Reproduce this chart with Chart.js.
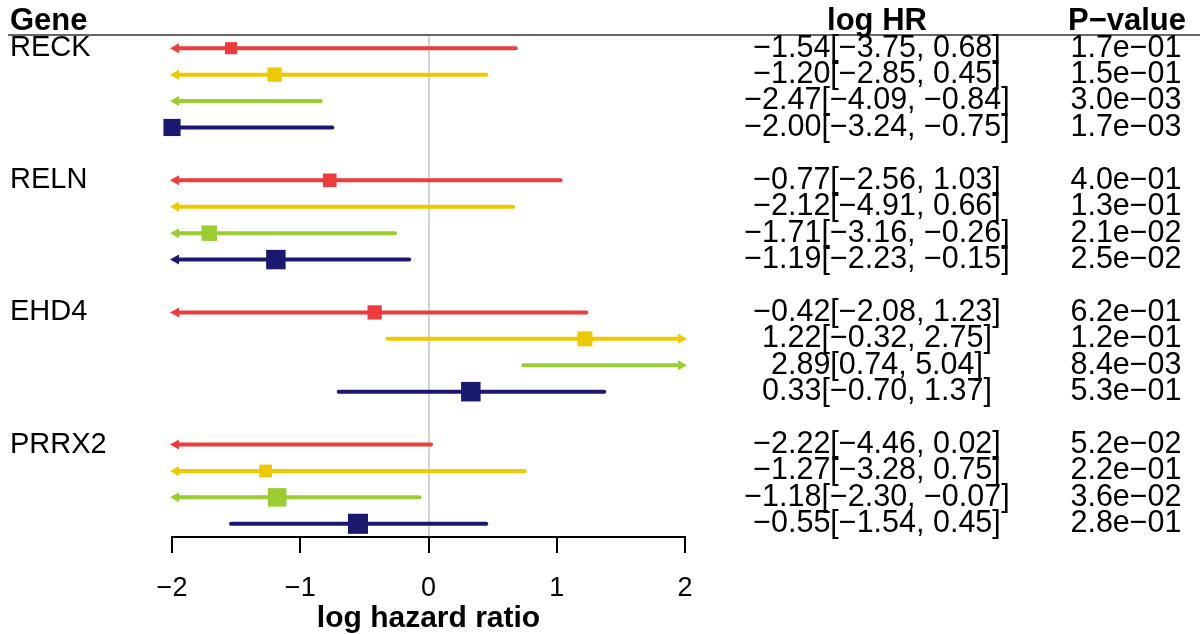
<!DOCTYPE html>
<html>
<head>
<meta charset="utf-8">
<script src="https://cdn.jsdelivr.net/npm/chart.js@4/dist/chart.umd.min.js"></script>
<style>
  body { margin: 0; background: #fff; }
  #wrap { width: 1200px; height: 634px; position: relative; }
</style>
</head>
<body>
<div id="wrap"><canvas id="chart"></canvas></div>
<script>
const genes = ['RECK', 'RELN', 'EHD4', 'PRRX2'];
const seriesColors = ['#EE3B3B', '#EEC900', '#9ACD32', '#191970'];

// log HR estimate per series (rows) and gene (columns)
const estimates = [
  [-1.54, -0.77, -0.42, -2.22],
  [-1.20, -2.12, 1.22, -1.27],
  [-2.47, -1.71, 2.89, -1.18],
  [-2.00, -1.19, 0.33, -0.55]
];
const lower = [
  [-3.75, -2.56, -2.08, -4.46],
  [-2.85, -4.91, -0.32, -3.28],
  [-4.09, -3.16, 0.74, -2.30],
  [-3.24, -2.23, -0.70, -1.54]
];
const upper = [
  [0.68, 1.03, 1.23, 0.02],
  [0.45, 0.66, 2.75, 0.75],
  [-0.84, -0.26, 5.04, -0.07],
  [-0.75, -0.15, 1.37, 0.45]
];
const pValues = [
  ['1.7e-01', '4.0e-01', '6.2e-01', '5.2e-02'],
  ['1.5e-01', '1.3e-01', '1.2e-01', '2.2e-01'],
  ['3.0e-03', '2.1e-02', '8.4e-03', '3.6e-02'],
  ['1.7e-03', '2.5e-02', '5.3e-01', '2.8e-01']
];
const xTicks = [-2, -1, 0, 1, 2];

const XMIN = -2, XMAX = 2;
const rowOf = (g, s) => g * 5 + s;
const minus = v => String(v).replace(/-/g, '\u2212');
const fmt = v => minus(v.toFixed(2));
// square side grows with precision (1 / CI width)
const boxSide = (g, s) => 5.5 + 29 / (upper[s][g] - lower[s][g]);

Chart.defaults.font.family = "'Liberation Sans', Arial, sans-serif";
Chart.defaults.color = '#000';

const datasets = seriesColors.map((col, s) => ({
  type: 'scatter',
  data: genes.map((g, gi) => ({ x: estimates[s][gi], y: rowOf(gi, s), gi: gi }))
    .filter(p => p.x >= XMIN && p.x <= XMAX),
  backgroundColor: col,
  borderWidth: 0,
  pointStyle: 'rect',
  pointRadius: ctx => ctx.raw ? boxSide(ctx.raw.gi, s) / Math.SQRT2 : 0,
  clip: false
}));

const forestPlugin = {
  id: 'forest',
  beforeDatasetsDraw(chart) {
    const { ctx, scales: { x, y } } = chart;
    ctx.save();
    // header line
    ctx.strokeStyle = '#666';
    ctx.lineWidth = 2;
    ctx.beginPath();
    ctx.moveTo(8, y.getPixelForValue(-0.5));
    ctx.lineTo(1200, y.getPixelForValue(-0.5));
    ctx.stroke();
    // confidence intervals
    const ah = 9, aw = 5;
    seriesColors.forEach((col, s) => {
      genes.forEach((g, gi) => {
        const py = y.getPixelForValue(rowOf(gi, s));
        const lo = lower[s][gi], hi = upper[s][gi];
        let x0 = x.getPixelForValue(Math.max(lo, XMIN));
        let x1 = x.getPixelForValue(Math.min(hi, XMAX));
        ctx.strokeStyle = col;
        ctx.fillStyle = col;
        ctx.lineWidth = 4;
        ctx.lineCap = 'round';
        if (lo < XMIN) x0 += ah - 2;
        if (hi > XMAX) x1 -= ah - 2;
        ctx.beginPath();
        ctx.moveTo(x0, py);
        ctx.lineTo(x1, py);
        ctx.stroke();
        if (lo < XMIN) {
          const tip = x.getPixelForValue(XMIN) - 2;
          ctx.beginPath();
          ctx.moveTo(tip, py);
          ctx.lineTo(tip + ah, py - aw);
          ctx.lineTo(tip + ah, py + aw);
          ctx.closePath();
          ctx.fill();
        }
        if (hi > XMAX) {
          const tip = x.getPixelForValue(XMAX) + 2;
          ctx.beginPath();
          ctx.moveTo(tip, py);
          ctx.lineTo(tip - ah, py - aw);
          ctx.lineTo(tip - ah, py + aw);
          ctx.closePath();
          ctx.fill();
        }
      });
    });
    ctx.restore();
  },
  afterDraw(chart) {
    const { ctx, scales: { y } } = chart;
    const family = Chart.defaults.font.family;
    ctx.save();
    ctx.fillStyle = '#000';
    ctx.textBaseline = 'middle';
    const hy = y.getPixelForValue(-1);
    ctx.font = 'bold 31px ' + family;
    ctx.textAlign = 'left';
    ctx.fillText('Gene', 10, hy);
    ctx.textAlign = 'center';
    ctx.fillText('log HR', 877, hy);
    ctx.fillText('P\u2212value', 1127, hy);
    genes.forEach((g, gi) => {
      ctx.font = '29px ' + family;
      ctx.textAlign = 'left';
      ctx.fillText(g, 10, y.getPixelForValue(rowOf(gi, 0)));
      ctx.font = '30.5px ' + family;
      seriesColors.forEach((c, s) => {
        const py = y.getPixelForValue(rowOf(gi, s));
        ctx.textAlign = 'center';
        ctx.fillText(fmt(estimates[s][gi]) + '[' + fmt(lower[s][gi]) + ', ' + fmt(upper[s][gi]) + ']', 877, py);
        ctx.fillText(minus(pValues[s][gi]), 1126, py);
      });
    });
    ctx.restore();
  }
};

new Chart(document.getElementById('chart'), {
  data: { datasets: datasets },
  options: {
    responsive: true,
    maintainAspectRatio: false,
    animation: false,
    events: [],
    layout: { padding: { left: 172, right: 515, top: 35, bottom: 0 } },
    plugins: { legend: { display: false }, tooltip: { enabled: false } },
    scales: {
      x: {
        type: 'linear',
        min: XMIN,
        max: XMAX,
        afterBuildTicks: axis => { axis.ticks = xTicks.map(v => ({ value: v })); },
        afterFit: axis => { axis.height = 97; },
        ticks: {
          padding: 19,
          font: { size: 27 },
          callback: v => minus(v)
        },
        grid: {
          color: c => (c.tick && c.tick.value === 0) ? '#d3d3d3' : 'rgba(0,0,0,0)',
          lineWidth: 2,
          tickColor: '#000',
          tickWidth: 2,
          tickLength: 16
        },
        border: { display: true, color: '#000', width: 2 },
        title: {
          display: true,
          text: 'log hazard ratio',
          font: { size: 30, weight: 'bold' },
          padding: { top: 0, bottom: -3 }
        }
      },
      y: {
        type: 'linear',
        min: -0.5,
        max: 18.5,
        reverse: true,
        display: false
      }
    }
  },
  plugins: [forestPlugin]
});
</script>
</body>
</html>
